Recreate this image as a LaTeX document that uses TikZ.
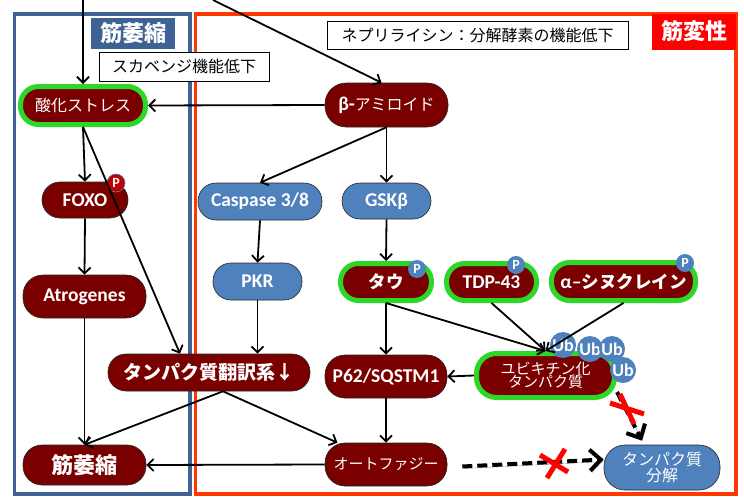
\documentclass[tikz,border=0pt]{standalone}
\usepackage{fontspec}
\setmainfont{Carlito}
\newfontfamily\jp{Noto Sans CJK JP}
\usetikzlibrary{arrows.meta,calc}
\definecolor{mred}{RGB}{122,0,0}
\definecolor{nblue}{RGB}{79,129,189}
\definecolor{ngreen}{RGB}{45,215,40}
\definecolor{fblue}{RGB}{62,98,148}
\definecolor{fred}{RGB}{255,55,0}
\definecolor{lred}{RGB}{255,0,0}
\definecolor{pred}{RGB}{192,0,0}
\newcommand\myfs[1]{\fontsize{#1}{#1}\selectfont}
\begin{document}
\begin{tikzpicture}[x=1pt,y=-1pt,
  base/.style={rounded corners=18pt, draw=black!85, line width=0.6pt, text=white, inner sep=0pt, align=center},
  rnode/.style={base, fill=mred},
  bnode/.style={base, fill=nblue},
  gnode/.style={base, fill=mred, draw=ngreen, line width=5pt},
  lat/.style={font=\bfseries\myfs{19.5}},
  badge/.style={circle, fill=nblue, text=white, inner sep=0pt, minimum size=18pt, font=\bfseries\myfs{14}},
  ub/.style={circle, fill=nblue, text=white, inner sep=0pt, minimum size=26pt, font=\bfseries\myfs{18}},
  txtbox/.style={draw=black, fill=white, line width=0.6pt, inner sep=0pt},
  arr/.style={-{Straight Barb[length=6pt,width=12pt]}, line width=1.8pt},
  dasharrow/.style={line width=4pt, dash pattern=on 10pt off 5pt, -{Straight Barb[length=11pt,width=21pt]},
    preaction={draw=black!35, transform canvas={shift={(1.5pt,-2pt)}}}},
  xmark/.style={draw=lred, line width=5pt}
]
\useasboundingbox (0,0) rectangle (744,498);
\fill[white] (0,0) rectangle (744,498);

% frames
\draw[fblue, line width=3.5pt] (14.5,14) rectangle (190,494);
\draw[fred, line width=3.5pt] (195.5,14) rectangle (736,494);
\node[fill=fblue, text=white, minimum width=84pt, minimum height=31pt, inner sep=0pt] (lbA) at (133,33.5) {\jp\bfseries\myfs{22}筋萎縮};
\node[fill=lred, text=white, minimum width=84pt, minimum height=36pt, inner sep=0pt] (lbB) at (694,31.5) {\jp\bfseries\myfs{22}筋変性};

% text boxes
\node[txtbox, minimum width=170pt, minimum height=29pt] (sc) at (184,66.5) {\jp\myfs{16}スカベンジ機能低下};
\node[txtbox, minimum width=301pt, minimum height=28pt] (np) at (477.5,35) {\jp\myfs{16}ネプリライシン：分解酵素の機能低下};

% nodes
\node[gnode, minimum width=125pt, minimum height=38pt] (ox) at (83,105.5) {\jp\myfs{16}酸化ストレス};
\node[rnode, minimum width=123pt, minimum height=44pt, rounded corners=21pt] (ba) at (386.5,105) {{\bfseries\myfs{19.5}β-}{\jp\myfs{16}アミロイド}};
\node[rnode, lat, minimum width=86pt, minimum height=36pt] (foxo) at (85,200) {FOXO};
\node[bnode, lat, minimum width=124pt, minimum height=37pt] (casp) at (260,201.5) {Caspase 3/8};
\node[bnode, lat, minimum width=89pt, minimum height=36pt] (gsk) at (386.5,201) {GSKβ};
\node[bnode, lat, minimum width=89pt, minimum height=37pt] (pkr) at (257.5,281.5) {PKR};
\node[rnode, lat, minimum width=123pt, minimum height=43pt, rounded corners=20pt] (atro) at (84.5,296.5) {Atrogenes};
\node[gnode, minimum width=91pt, minimum height=37pt] (tau) at (386,282) {\jp\bfseries\myfs{17.5}タウ};
\node[gnode, lat, minimum width=90pt, minimum height=37pt] (tdp) at (491.5,282) {TDP-43};
\node[gnode, minimum width=144pt, minimum height=38pt] (syn) at (623.5,281.5) {{\bfseries\myfs{19.5}α–}{\jp\bfseries\myfs{17.5}シヌクレイン}};
\node[rnode, minimum width=202pt, minimum height=37pt] (trans) at (209,372.5) {\jp\bfseries\myfs{19}タンパク質翻訳系↓};
\node[rnode, lat, minimum width=122pt, minimum height=43pt, rounded corners=20pt] (p62) at (386,376.5) {P62/SQSTM1};
\node[gnode, minimum width=138pt, minimum height=44pt, rounded corners=20pt] (ubq) at (545.5,375.5) {\jp\myfs{15}ユビキチン化\\[-1pt]\jp\myfs{15}タンパク質};
\node[rnode, minimum width=123pt, minimum height=40pt, rounded corners=19pt] (atr) at (84.5,465) {\jp\bfseries\myfs{22}筋萎縮};
\node[rnode, minimum width=122pt, minimum height=43pt, rounded corners=20pt] (auto) at (386,464.5) {\jp\myfs{15}オートファジー};
\node[bnode, minimum width=116pt, minimum height=45pt, rounded corners=21pt] (deg) at (662,467.5) {\jp\myfs{16}タンパク質\\[1pt]\jp\myfs{16}分解};

% badges
\node[badge, fill=pred, draw=nblue, line width=0.6pt] (pf) at (116,183) {P};
\node[badge] (pt) at (417,269) {P};
\node[badge] (pd) at (516,265) {P};
\node[badge] (ps) at (685,263) {P};
\node[ub] (u1) at (563,345) {Ub};
\node[ub] (u2) at (590,349) {Ub};
\node[ub] (u3) at (612,349) {Ub};
\node[ub] (u4) at (623,370) {Ub};

% connectors
\coordinate (t1) at (83,0);
\coordinate (t2) at (213,0);
\draw[arr] (t1) -- (ox.north);
\draw[arr] (t2) -- ([xshift=-5pt]ba.north);
\draw[arr] (ba.west) -- (ox.east);
\draw[arr] (ox.south) -- (foxo.north);
\draw[arr] (ox.south) -- ([xshift=-29pt]trans.north);
\draw[arr] (ba.south) -- (casp.north);
\draw[arr] (ba.south) -- (gsk.north);
\draw[arr] (casp.south) -- (pkr.north);
\draw[arr] (gsk.south) -- (tau.north);
\draw[arr] (pkr.south) -- (pkr.south |- trans.north);
\draw[arr] (foxo.south) -- (atro.north);
\draw[arr] (atro.south) -- (atr.north);
\draw[arr] ([xshift=14pt]trans.south) -- (atr.north);
\draw[arr] ([xshift=14pt]trans.south) -- (auto);
\draw[arr] (auto.west) -- (atr.east);
\draw[arr] (tau.south) -- (p62.north);
\draw[arr] (tau.south) -- (ubq.north);
\draw[arr] (tdp.south) -- (ubq.north);
\draw[arr] (syn.south) -- (ubq.north);
\draw[arr] (ubq.west) -- (p62.east);
\draw[arr] (p62.south) -- (auto.north);

\draw[dasharrow] ([yshift=8pt]ubq.south east) -- ([xshift=-20pt,yshift=4pt]deg.north);
\draw[dasharrow] ([xshift=15pt,yshift=-2pt]auto.east) -- ([yshift=8pt]deg.west);

% red crosses
\draw[xmark] (620,394) -- (634,424) (610,403) -- (644,414);
\draw[xmark] (540,455) -- (568,472) (547,478) -- (565,449);
\end{tikzpicture}
\end{document}
